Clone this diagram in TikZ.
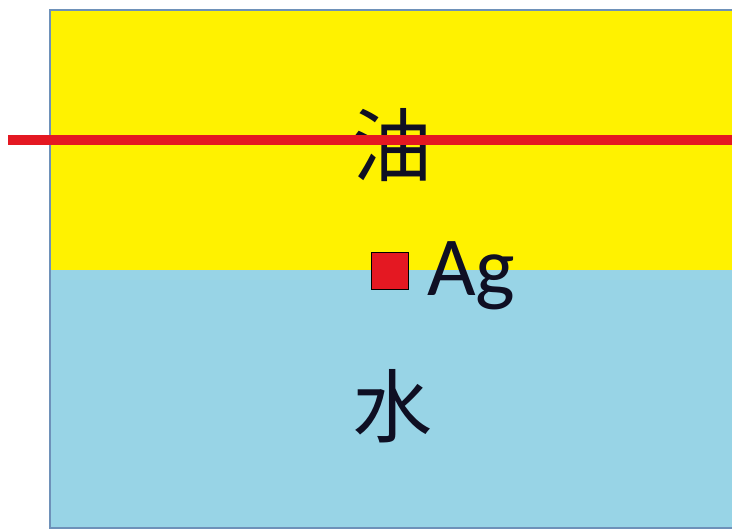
\documentclass[tikz,border=0pt]{standalone}
\usepackage{fontspec}
\setmainfont{Carlito}
\newfontfamily\cjk{Noto Sans CJK SC}

\definecolor{oilyellow}{RGB}{255,242,0}
\definecolor{waterblue}{RGB}{152,212,230}
\definecolor{edgeblue}{RGB}{110,145,185}
\definecolor{wirered}{RGB}{228,24,34}
\definecolor{inkdark}{RGB}{15,15,35}

\begin{document}
\begin{tikzpicture}[x=1pt,y=-1pt]

    % Frame of the picture
    \useasboundingbox (0,0) rectangle (732,532);

    % Coordinates of the layers
    \coordinate (TL) at (50,10);     % top left of the oil
    \coordinate (M)  at (732,270);   % right end of the interface
    \coordinate (ML) at (50,270);    % left end of the interface
    \coordinate (BR) at (732,528);   % bottom right of the water

    % Oil and water
    \fill[oilyellow] (TL) rectangle (M);
    \fill[waterblue] (ML) rectangle (BR);
    \draw[edgeblue,line width=1.3pt] (732,10) -- (TL) -- (50,528) -- (BR);

    % Labels
    \node[text=inkdark,font=\cjk\fontsize{80}{80}\selectfont] (oil) at (392,145) {油};
    \node[text=inkdark,font=\cjk\fontsize{80}{80}\selectfont] (water) at (392,406) {水};

    % Red line through the oil
    \coordinate (L1) at (8,140);
    \coordinate (L2) at (732,140);
    \draw[wirered,line width=10.5pt] (L1) -- (L2);

    % Silver particle on the interface
    \node[draw=black,fill=wirered,line width=1pt,minimum size=37pt,inner sep=0pt] (ag) at (390,271) {};
    \node[text=inkdark,font=\fontsize{84}{84}\selectfont,anchor=west,inner sep=0pt] (agtext) at (427,276) {Ag};

\end{tikzpicture}
\end{document}
